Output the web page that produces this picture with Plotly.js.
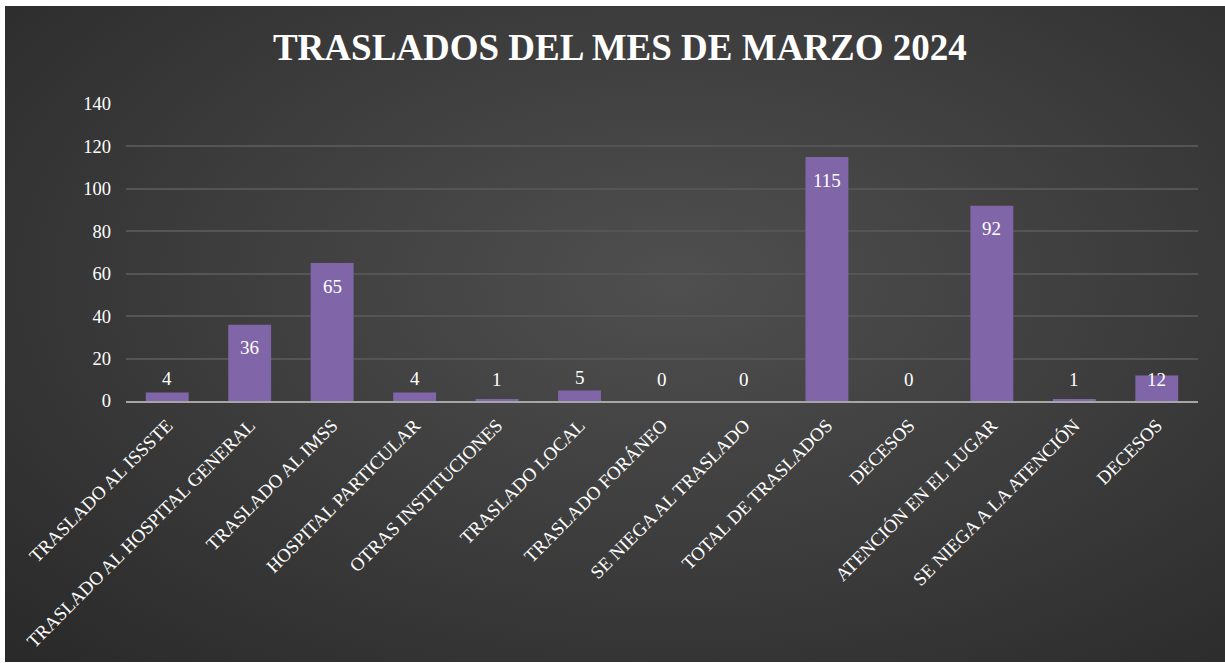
<!DOCTYPE html>
<html>
<head>
<meta charset="utf-8">
<script src="https://cdn.plot.ly/plotly-3.0.1.min.js"></script>
<style>
  html, body { margin: 0; padding: 0; background: #fff; }
  #chart {
    position: absolute; left: 5px; top: 6px; width: 1220px; height: 656px;
    background: radial-gradient(ellipse 75% 80% at 55% 42%, #4f4f4f 0%, #3d3d3d 50%, #2a2a2a 100%);
  }
</style>
</head>
<body>
<div id="chart"></div>
<script>
var categories = [
    "TRASLADO AL ISSSTE",
    "TRASLADO AL HOSPITAL GENERAL",
    "TRASLADO AL IMSS",
    "HOSPITAL PARTICULAR",
    "OTRAS INSTITUCIONES",
    "TRASLADO LOCAL",
    "TRASLADO FORÁNEO",
    "SE NIEGA AL TRASLADO",
    "TOTAL DE TRASLADOS",
    "DECESOS",
    "ATENCIÓN EN EL LUGAR",
    "SE NIEGA A LA ATENCIÓN",
    "DECESOS"
];
var values = [4, 36, 65, 4, 1, 5, 0, 0, 115, 0, 92, 1, 12];
var yTicks = [0, 20, 40, 60, 80, 100, 120, 140];

// "DECESOS" appears twice, so use positions and ticktext
var positions = categories.map(function(c, i) { return i; });

var serif = '"Liberation Serif", "Times New Roman", serif';

var plotHeight = 656 - 98 - 261;
var pxPerUnit = plotHeight / 140;

var bars = {
    x: positions,
    y: values,
    type: "bar",
    marker: {
        color: "#8066a8",
        line: { width: 0 }
    },
    hoverinfo: "x+y"
};

// value labels, like excel's "inside end" / "outside end"
var labels = values.map(function(v, i) {
    var h = v * pxPerUnit;
    var shift;
    if (v >= 10) {
        shift = -Math.min(23, h - 21);
    } else {
        shift = Math.max(13, 22 - h);
    }
    return {
        x: i,
        y: v,
        xref: "x",
        yref: "y",
        text: String(v),
        showarrow: false,
        yanchor: "middle",
        yshift: shift,
        font: { family: serif, size: 19, color: "#ffffff" }
    };
});

var layout = {
    width: 1220,
    height: 656,
    paper_bgcolor: "rgba(0,0,0,0)",
    plot_bgcolor: "rgba(0,0,0,0)",
    margin: { l: 121, r: 27, t: 98, b: 261 },
    bargap: 0.48,
    showlegend: false,
    title: {
        text: "<b>TRASLADOS DEL MES DE MARZO 2024</b>",
        font: { family: serif, size: 37, color: "#ffffff" },
        x: 0.504,
        xanchor: "center",
        y: 0.938,
        yanchor: "middle"
    },
    xaxis: {
        range: [-0.5, 12.5],
        tickmode: "array",
        tickvals: positions,
        ticktext: categories,
        tickangle: -45,
        ticks: "",
        ticklabelstandoff: 4,
        showgrid: false,
        zeroline: false,
        showline: true,
        linecolor: "#a6a6a6",
        linewidth: 2,
        tickfont: { family: serif, size: 18.8, color: "#ffffff" }
    },
    yaxis: {
        range: [0, 140],
        tickmode: "array",
        tickvals: yTicks,
        ticks: "",
        ticklabelstandoff: 14,
        showgrid: true,
        gridcolor: "#555555",
        gridwidth: 1.5,
        zeroline: false,
        showline: false,
        tickfont: { family: serif, size: 18.5, color: "#ffffff" }
    },
    annotations: labels
};

Plotly.newPlot("chart", [bars], layout, { displayModeBar: false });
</script>
</body>
</html>
